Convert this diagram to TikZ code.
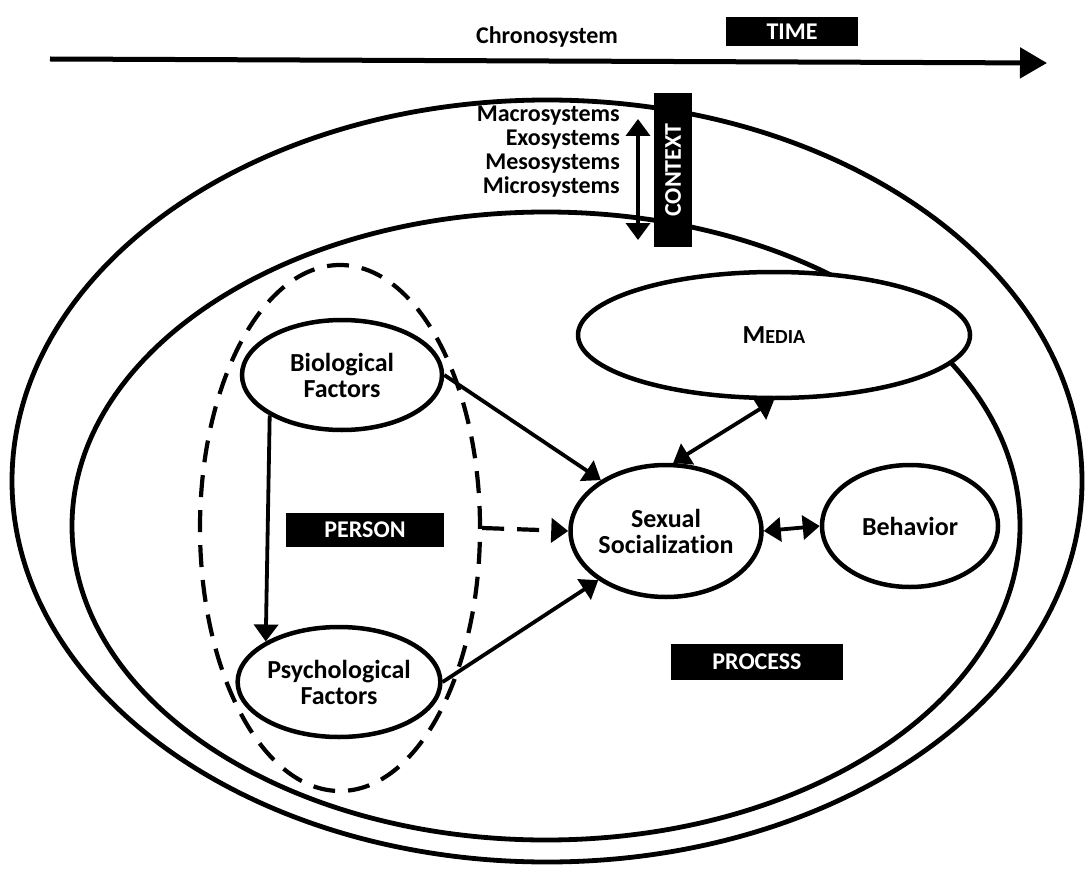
\documentclass[tikz,border=0pt]{standalone}
\usepackage{fontspec}
\setmainfont{Carlito}[Ligatures=NoCommon]
\usetikzlibrary{shapes.geometric,arrows.meta}
\tikzset{
  ring/.style={line width=4.8pt},
  fac/.style={ellipse, draw, line width=4.5pt, fill=white, inner sep=0pt, align=center,
    font=\bfseries\fontsize{26}{26}\selectfont},
  blk/.style={fill=black, text=white, inner sep=0pt, font=\bfseries\fontsize{24}{24}\selectfont},
  lbl/.style={inner sep=0pt, font=\bfseries\fontsize{24}{24}\selectfont},
  tip/.tip={Triangle[length=17pt,width=24pt]},
  conn/.style={line width=3.8pt, -tip},
  biconn/.style={line width=3.8pt, tip-tip},
  dashline/.style={line width=4.2pt, dash pattern=on 22pt off 13pt},
}
\begin{document}
\begin{tikzpicture}[x=1pt,y=-1pt]
\useasboundingbox (0,0) rectangle (1086,869);
% time
\node[blk, minimum width=132pt, minimum height=29pt] (time) at (792,32) {TIME};
\node[lbl] (chrono) at (547,37) {Chronosystem};
\coordinate (t0) at (50,59);
\coordinate (t1) at (1047,63);
\draw[line width=5pt, -{Triangle[length=27pt,width=30pt]}] (t0) -- (t1);
% context rings
\draw[ring] (547,481) ellipse [x radius=535pt, y radius=381pt];
\draw[ring] (546,526) ellipse [x radius=474pt, y radius=314pt];
\node[blk, rotate=90, minimum width=154pt, minimum height=38pt] (ctx) at (673,170) {CONTEXT};
\coordinate (c0) at (638,119);
\coordinate (c1) at (638,240);
\draw[biconn] (c0) -- (c1);
\node[lbl, anchor=east, align=right, font=\bfseries\fontsize{24}{24}\selectfont] (systems) at (620,152)
  {Macrosystems\\Exosystems\\Mesosystems\\Microsystems};
% person
\node[ellipse, draw, dashline, minimum width=280pt, minimum height=526pt, inner sep=0pt] (pers) at (340,528) {};
\node[fac, minimum width=200pt, minimum height=110pt] (bio) at (342,375) {Biological\\Factors};
\node[fac, minimum width=198pt, minimum height=110pt] (psy) at (339,682) {Psychological\\Factors};
\node[blk, minimum width=158pt, minimum height=34pt] (person) at (365,530) {PERSON};
% process
\node[fac, minimum width=392pt, minimum height=126pt] (media) at (774,335)
  {M\fontsize{20}{20}\selectfont EDIA};
\node[fac, minimum width=174pt, minimum height=132pt] (sex) at (666,531) {Sexual\\Socialization};
\node[fac, minimum width=176pt, minimum height=122pt] (beh) at (910,526) {Behavior};
\node[blk, minimum width=172pt, minimum height=36pt] (process) at (757,662) {PROCESS};
% connectors
\draw[conn] (bio.south west) -- (psy.north west);
\draw[conn] (bio.east) -- (sex.142);
\draw[conn] (psy.east) -- (sex.216);
\draw[dashline, -tip] (pers.east) -- (sex.west);
\draw[biconn] (sex.84) -- (media.south);
\draw[biconn] (sex.east) -- (beh.west);
\end{tikzpicture}
\end{document}
